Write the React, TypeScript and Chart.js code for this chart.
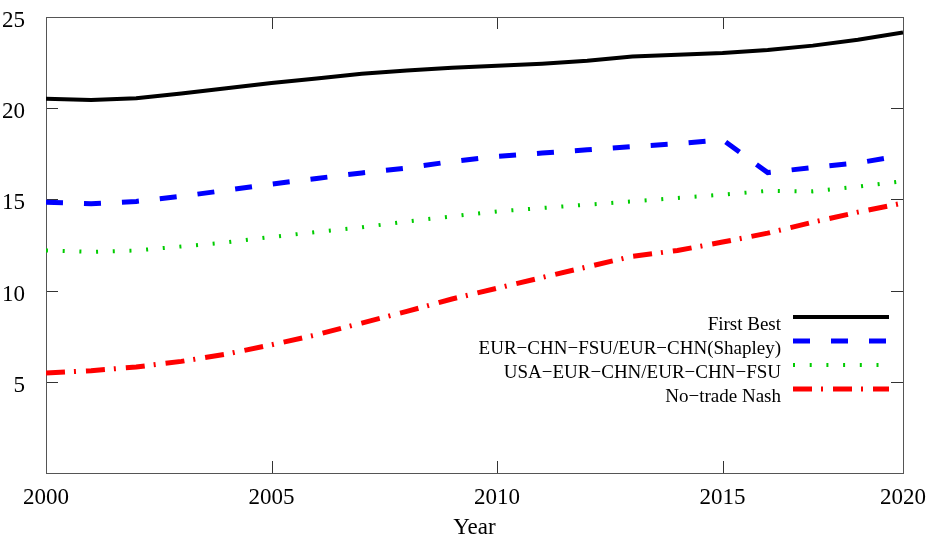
import React, { useEffect, useRef } from 'react';
import { Chart, registerables } from 'chart.js';

Chart.register(...registerables);

const years = [2000, 2001, 2002, 2003, 2004, 2005, 2006, 2007, 2008, 2009, 2010, 2011, 2012, 2013, 2014, 2015, 2016, 2017, 2018, 2019];
const firstBest = [20.52, 20.45, 20.54, 20.8, 21.09, 21.38, 21.63, 21.89, 22.07, 22.22, 22.33, 22.44, 22.6, 22.84, 22.93, 23.02, 23.19, 23.43, 23.75, 24.15];
const shapley = [14.84, 14.76, 14.89, 15.17, 15.5, 15.84, 16.15, 16.45, 16.72, 17.08, 17.36, 17.54, 17.72, 17.9, 18.05, 18.27, 16.47, 16.75, 17.0, 17.42];
const usaEurChn = [12.2, 12.12, 12.2, 12.42, 12.64, 12.94, 13.21, 13.47, 13.79, 14.07, 14.34, 14.53, 14.71, 14.89, 15.08, 15.26, 15.47, 15.44, 15.7, 16.0];
const noTradeNash = [5.48, 5.61, 5.81, 6.12, 6.52, 7.03, 7.58, 8.22, 8.86, 9.54, 10.13, 10.72, 11.3, 11.88, 12.2, 12.66, 13.15, 13.75, 14.3, 14.8];

const seriesLabels = [
  'First Best',
  'EUR\u2212CHN\u2212FSU/EUR\u2212CHN(Shapley)',
  'USA\u2212EUR\u2212CHN/EUR\u2212CHN\u2212FSU',
  'No\u2212trade Nash',
];

const xTickValues = [2000, 2005, 2010, 2015, 2019];
const xTickLabels = ['2000', '2005', '2010', '2015', '2020'];
const yTickValues = [5, 10, 15, 20, 25];

const FONT = "'Liberation Serif', 'DejaVu Serif', 'Times New Roman', serif";

const framePlugin = {
  id: 'frameTicks',
  beforeDatasetsDraw(chart: any) {
    const { ctx, chartArea: a, scales } = chart;
    const tl = 12;
    ctx.save();
    ctx.strokeStyle = '#333';
    ctx.lineWidth = 1;
    ctx.beginPath();
    for (const v of xTickValues) {
      const px = Math.round(scales.x.getPixelForValue(v)) + 0.5;
      ctx.moveTo(px, a.bottom);
      ctx.lineTo(px, a.bottom - tl);
      ctx.moveTo(px, a.top);
      ctx.lineTo(px, a.top + tl);
    }
    for (const v of yTickValues) {
      const py = Math.round(scales.y.getPixelForValue(v)) + 0.5;
      ctx.moveTo(a.left, py);
      ctx.lineTo(a.left + tl, py);
      ctx.moveTo(a.right, py);
      ctx.lineTo(a.right - tl, py);
    }
    ctx.stroke();
    ctx.strokeStyle = '#555';
    ctx.strokeRect(Math.round(a.left) + 0.5, Math.round(a.top) + 0.5, Math.round(a.right - a.left), Math.round(a.bottom - a.top));
    ctx.restore();
  },
};

const legendPlugin = {
  id: 'sideLegend',
  afterDatasetsDraw(chart: any) {
    const { ctx, chartArea: a } = chart;
    const x2 = a.right - 14;
    const x1 = a.right - 110;
    const y0 = 317;
    const dy = 24;
    ctx.save();
    ctx.font = `19px ${FONT}`;
    ctx.textAlign = 'right';
    ctx.textBaseline = 'alphabetic';
    chart.data.datasets.forEach((ds: any, i: number) => {
      const y = y0 + i * dy;
      ctx.fillStyle = '#000';
      ctx.fillText(ds.label, x1 - 12, y + 13);
      ctx.beginPath();
      ctx.strokeStyle = ds.borderColor;
      ctx.lineWidth = ds.borderWidth;
      ctx.setLineDash(ds.borderDash || []);
      ctx.lineCap = 'butt';
      ctx.moveTo(x1, y);
      ctx.lineTo(x2, y);
      ctx.stroke();
    });
    ctx.restore();
  },
};

export default function App() {
  const ref = useRef<HTMLCanvasElement>(null);
  useEffect(() => {
    document.body.style.margin = '0';
    Chart.defaults.font.family = FONT;
    const mk = (vals: number[]) => years.map((y, i) => ({ x: y, y: vals[i] }));
    const chart = new Chart(ref.current as HTMLCanvasElement, {
      type: 'line',
      data: {
        datasets: [
          { label: seriesLabels[0], data: mk(firstBest), borderColor: '#000000', borderWidth: 4, pointRadius: 0, tension: 0, fill: false },
          { label: seriesLabels[1], data: mk(shapley), borderColor: '#0000ff', borderWidth: 5, borderDash: [17, 21], pointRadius: 0, tension: 0, fill: false },
          { label: seriesLabels[2], data: mk(usaEurChn), borderColor: '#00cc00', borderWidth: 4, borderDash: [2, 14.7], pointRadius: 0, tension: 0, fill: false },
          { label: seriesLabels[3], data: mk(noTradeNash), borderColor: '#ff0000', borderWidth: 5, borderDash: [19, 9, 2, 10], pointRadius: 0, tension: 0, fill: false },
        ],
      },
      options: {
        animation: false,
        responsive: true,
        maintainAspectRatio: false,
        layout: { padding: { left: 0, right: 26, top: 17, bottom: 0 } },
        plugins: { legend: { display: false }, tooltip: { enabled: false } },
        scales: {
          x: {
            type: 'linear',
            min: 2000,
            max: 2019,
            grid: { display: false },
            border: { display: false },
            afterBuildTicks: (s: any) => {
              s.ticks = xTickValues.map((v) => ({ value: v }));
            },
            afterFit: (s: any) => {
              s.height = 64;
              s.paddingLeft = 0;
              s.paddingRight = 0;
            },
            ticks: {
              color: '#000',
              font: { size: 23 },
              padding: 3,
              maxRotation: 0,
              autoSkip: false,
              callback: (_v: any, i: number) => xTickLabels[i],
            },
            title: { display: true, text: 'Year', color: '#000', font: { size: 23 }, padding: { top: 0, bottom: -5 } },
          },
          y: {
            type: 'linear',
            min: 0,
            max: 25,
            grid: { display: false },
            border: { display: false },
            afterBuildTicks: (s: any) => {
              s.ticks = yTickValues.map((v) => ({ value: v }));
            },
            afterFit: (s: any) => {
              s.width = 46;
              s.paddingTop = 0;
              s.paddingBottom = 0;
            },
            ticks: { color: '#000', font: { size: 23 }, padding: 13, labelOffset: 4 },
          },
        },
      },
      plugins: [framePlugin, legendPlugin],
    });
    return () => chart.destroy();
  }, []);
  return (
    <div style={{ position: 'fixed', left: 0, top: 0, width: 929, height: 537 }}>
      <canvas ref={ref} />
    </div>
  );
}
